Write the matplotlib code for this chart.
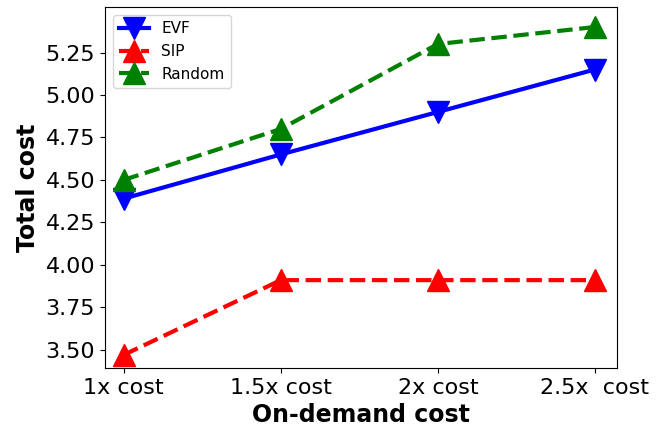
import matplotlib
matplotlib.use("Agg")
import matplotlib.pyplot as plt

categories = ["1x cost", "1.5x cost", "2x cost", "2.5x  cost"]
evf = [4.39, 4.65, 4.90, 5.15]
sip = [3.47, 3.91, 3.91, 3.91]
rnd = [4.50, 4.80, 5.30, 5.40]

fig = plt.figure(figsize=(6.64, 4.41), dpi=100)
ax = fig.add_axes([0.158, 0.166, 0.771, 0.817])
x = range(len(categories))
ax.plot(x, evf, color="blue", lw=3, ls="-", marker="v", ms=16, label="EVF")
ax.plot(x, sip, color="red", lw=3, ls="--", marker="^", ms=16, label="SIP")
ax.plot(x, rnd, color="green", lw=3, ls="--", marker="^", ms=16, label="Random")
ax.set_xticks(list(x))
ax.set_xticklabels(categories)
ax.set_xlim(-0.12, 3.14)
ax.set_ylim(3.394, 5.515)
ax.set_yticks([3.5, 3.75, 4.0, 4.25, 4.5, 4.75, 5.0, 5.25])
ax.tick_params(labelsize=16)
ax.set_xlabel("On-demand cost", fontsize=17, fontweight="bold")
ax.set_ylabel("Total cost", fontsize=17, fontweight="bold")
ax.legend(loc="upper left", fontsize=11)
fig.savefig("out.png", dpi=100)
